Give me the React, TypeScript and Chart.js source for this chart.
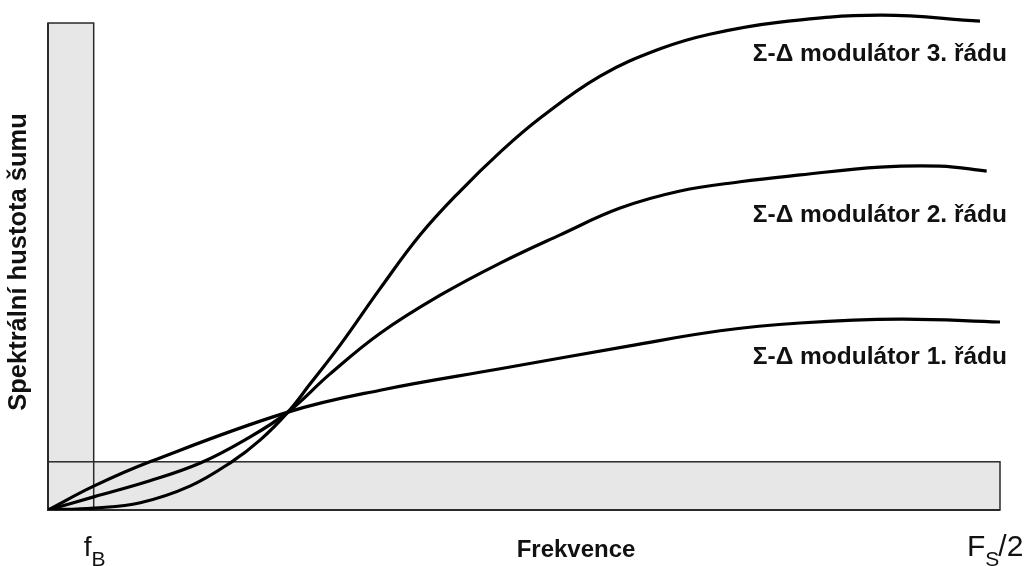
import { useEffect, useRef } from "react";
import { Chart, registerables } from "chart.js";

Chart.register(...registerables);

// Normalised frequency (0 … 100 % of Fs/2) and noise spectral density (arbitrary units)
const freq1 = [0, 4.8, 10.7, 25.2, 34.9, 47.5, 61.1, 70.6, 79.0, 89.5, 100];
const density1 = [0, 4.9, 9.9, 20.1, 24.6, 29.0, 33.7, 36.8, 38.4, 39.2, 38.6];

const freq2 = [0, 4.8, 10.7, 16.0, 20.7, 25.2, 29.6, 34.9, 41.2, 47.5, 53.8, 60.1, 66.4, 72.7, 79.0, 87.4, 93.7, 98.6];
const density2 = [0, 2.7, 6.0, 9.65, 14.4, 20.1, 27.9, 36.3, 44.1, 50.7, 56.5, 62.0, 65.5, 67.4, 68.8, 70.4, 70.6, 69.6];

const freq3 = [0, 4.8, 9.7, 14.9, 19.3, 22.3, 25.2, 27.5, 30.7, 34.9, 39.1, 43.3, 47.5, 51.7, 58.0, 64.3, 69.5, 76.9, 87.4, 97.9];
const density3 = [0, 0.4, 1.5, 4.9, 9.9, 14.4, 20.1, 25.8, 33.9, 45.5, 56.5, 65.5, 73.5, 80.5, 89.1, 94.7, 97.7, 100.2, 101.6, 100.4];

const seriesNames = ["Σ-Δ modulátor 1. řádu", "Σ-Δ modulátor 2. řádu", "Σ-Δ modulátor 3. řádu"];
const seriesLabelLevels = [31.4, 60.6, 93.5];

// Signal band edge and the in-band noise level
const bandEdge = 4.8;
const bandNoise = 9.9;
const bandTop = 100;
const freqMax = 100;

const xTitle = "Frekvence";
const yTitle = "Spektrální hustota šumu";
const bandTick = ["f", "B", ""];
const nyquistTick = ["F", "S", "/2"];

const FONT = "'Liberation Sans', Arial, sans-serif";

const toPoints = (xs: number[], ys: number[]) => xs.map((x, i) => ({ x, y: ys[i] }));

const bandsPlugin = {
  id: "bands",
  beforeDatasetsDraw(chart: any) {
    const { ctx, scales } = chart;
    const sx = scales.x;
    const sy = scales.y;
    const x0 = sx.getPixelForValue(0);
    const xB = sx.getPixelForValue(bandEdge);
    const xE = sx.getPixelForValue(freqMax);
    const y0 = sy.getPixelForValue(0);
    const yT = sy.getPixelForValue(bandTop);
    const yN = sy.getPixelForValue(bandNoise);
    ctx.save();
    ctx.fillStyle = "#e6e7e6";
    ctx.fillRect(x0, yT, xB - x0, y0 - yT);
    ctx.fillRect(x0, yN, xE - x0, y0 - yN);
    ctx.strokeStyle = "#2a2a2a";
    ctx.lineWidth = 1.5;
    ctx.strokeRect(x0, yT, xB - x0, y0 - yT);
    ctx.strokeRect(x0, yN, xE - x0, y0 - yN);
    ctx.lineWidth = 2;
    ctx.beginPath();
    ctx.moveTo(x0, yT);
    ctx.lineTo(x0, y0);
    ctx.lineTo(xE, y0);
    ctx.stroke();
    ctx.restore();
  },
};

const labelsPlugin = {
  id: "labels",
  afterDraw(chart: any) {
    const { ctx, scales } = chart;
    const sx = scales.x;
    const sy = scales.y;
    ctx.save();
    ctx.fillStyle = "#111";

    // series names beside the curves
    ctx.font = `bold 24.5px ${FONT}`;
    ctx.textAlign = "right";
    ctx.textBaseline = "middle";
    seriesNames.forEach((name, i) => {
      ctx.fillText(name, sx.getPixelForValue(freqMax) + 7, sy.getPixelForValue(seriesLabelLevels[i]));
    });

    // axis titles
    ctx.textAlign = "center";
    ctx.font = `bold 24px ${FONT}`;
    ctx.fillText(xTitle, 576, 550);
    ctx.save();
    ctx.font = `bold 25.5px ${FONT}`;
    ctx.translate(19, 262);
    ctx.rotate(-Math.PI / 2);
    ctx.fillText(yTitle, 0, 0);
    ctx.restore();

    // frequency markers with subscripts
    const drawSub = (parts: string[], left: number, big: number, small: number) => {
      ctx.textAlign = "left";
      ctx.textBaseline = "alphabetic";
      ctx.font = `${big}px ${FONT}`;
      ctx.fillText(parts[0], left, 556);
      let x = left + ctx.measureText(parts[0]).width;
      ctx.font = `${small}px ${FONT}`;
      ctx.fillText(parts[1], x, 566);
      x += ctx.measureText(parts[1]).width;
      ctx.font = `${big}px ${FONT}`;
      ctx.fillText(parts[2], x - 1, 556);
    };
    drawSub(bandTick, sx.getPixelForValue(bandEdge) - 10, 28, 21);
    drawSub(nyquistTick, sx.getPixelForValue(freqMax) - 33, 30, 21);
    ctx.restore();
  },
};

export default function App() {
  const ref = useRef<HTMLCanvasElement>(null);

  useEffect(() => {
    if (!ref.current) return;
    const line = (xs: number[], ys: number[], label: string) => ({
      label,
      data: toPoints(xs, ys),
      borderColor: "#000",
      borderWidth: 3.2,
      pointRadius: 0,
      fill: false,
      tension: 0.4,
    });
    const chart = new Chart(ref.current, {
      type: "line",
      data: {
        datasets: [
          line(freq1, density1, seriesNames[0]),
          line(freq2, density2, seriesNames[1]),
          line(freq3, density3, seriesNames[2]),
        ],
      },
      options: {
        animation: false,
        responsive: false,
        layout: { padding: { left: 48, right: 34, top: 8.4, bottom: 56 } },
        plugins: { legend: { display: false }, tooltip: { enabled: false } },
        scales: {
          x: { type: "linear", min: 0, max: freqMax, display: false },
          y: { type: "linear", min: 0, max: 103, display: false },
        },
      },
      plugins: [bandsPlugin, labelsPlugin],
    });
    return () => chart.destroy();
  }, []);

  return (
    <div style={{ position: "fixed", left: 0, top: 0, width: 1034, height: 566, background: "#fff" }}>
      <canvas ref={ref} width={1034} height={566} style={{ display: "block" }} />
    </div>
  );
}
